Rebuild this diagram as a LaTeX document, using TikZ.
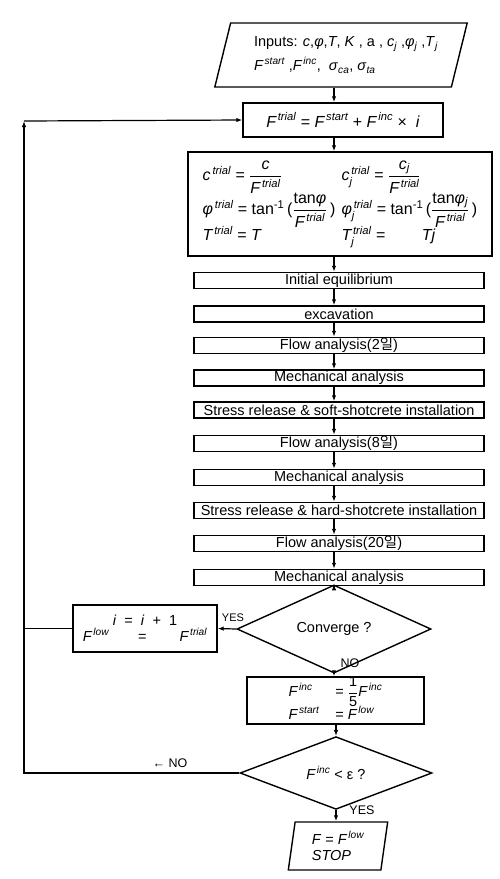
\documentclass[tikz,border=0pt]{standalone}
\usepackage{amsmath}
\usepackage{fontspec}
\setmainfont{Liberation Sans}
\newfontfamily\kr{Noto Sans CJK KR}
\usepackage{tikz}
\usetikzlibrary{arrows.meta, shapes.geometric}
\tikzset{
  calc/.style={draw, line width=1.4pt, inner sep=0pt},
  proc/.style={calc, minimum width=290pt, minimum height=16pt},
  decide/.style={draw, line width=1.4pt, diamond, inner sep=0pt,
    minimum width=194pt, minimum height=62pt},
  inout/.style={draw, line width=1.4pt, trapezium, trapezium stretches=true,
    inner sep=0pt},
  tag/.style={font=\fontsize{12.5}{14}\selectfont}
}
\let\itv\textit
\newcommand\Ftrial{$\itv{F}^{\,\itv{trial}}$}
\newcommand\Fstart{$\itv{F}^{\,\itv{start}}$}
\newcommand\Finc{$\itv{F}^{\,\itv{inc}}$}
\newcommand\Flow{$\itv{F}^{\,\itv{low}}$}
\newcommand\ratio[2]{$\dfrac{\text{#1}}{\text{#2}}$}
\newcommand\tanInv{tan\textsuperscript{-1}}

\begin{document}
\begin{tikzpicture}[x=1pt, y=-1pt, >={Latex[length=6pt,width=4.5pt]}, line width=1.2pt,
    every node/.style={font=\fontsize{14.5}{16}\selectfont}]
            \useasboundingbox (0,0) rectangle (500,879);
            \coordinate (axis) at (334,0);
            \coordinate (loop) at (24,121);

            \node[inout, trapezium left angle=69, trapezium right angle=111,
                minimum width=253pt, minimum height=64pt, align=left] (input) at (341,55)
                {\hspace{10pt}Inputs: \itv{c},\itv{φ},\itv{T}, \itv{K} , a , \itv{c}$_{\itv{j}}$ ,\itv{φ}$_{\itv{j}}$ ,\itv{T}$_{\itv{j}}$\\[5pt]
                 \hspace{10pt}\Fstart\ ,\Finc, \ \itv{σ}$_{\itv{ca}}$, \itv{σ}$_{\itv{ta}}$};
            \node[calc, minimum width=200pt, minimum height=34pt, font=\fontsize{16}{18}\selectfont] (trial) at (343,120)
                {\Ftrial\ = \Fstart\ + \Finc\ × \ \itv{i}};
            \node[calc, minimum width=304pt, minimum height=104pt, font=\fontsize{16}{18}\selectfont] (param) at (340,204)
                {\begin{tabular}{@{}l@{\hspace{6pt}}l@{}}
                 $\itv{c}^{\,\itv{trial}}$ = \ratio{\itv{c}}{\Ftrial} &
                 $\itv{c}_{\itv{j}}^{\,\itv{trial}}$ = \ratio{$\itv{c}_{\itv{j}}$}{\Ftrial} \\[-1pt]
                 $\itv{φ}^{\,\itv{trial}}$ = \tanInv\,(\ratio{tan\itv{φ}}{\Ftrial}\,) &
                 $\itv{φ}_{\itv{j}}^{\,\itv{trial}}$ = \tanInv\,(\ratio{tan\itv{φ}$_{\itv{j}}$}{\Ftrial}\,) \\[-2pt]
                 $\itv{T}^{\,\itv{trial}}$ = \itv{T} &
                 $\itv{T}_{\itv{j}}^{\,\itv{trial}}$ = \qquad \itv{Tj}
                 \end{tabular}};

            \node[proc] (equil) at (339,280.5) {Initial equilibrium};
            \node[proc] (excav) at (339,314) {excavation};
            \node[proc] (flowA) at (339,345.5) {Flow analysis(2{\kr 일})};
            \node[proc] (mechA) at (339,378) {Mechanical analysis};
            \node[proc] (soft) at (339,410) {Stress release \& soft-shotcrete installation};
            \node[proc] (flowB) at (339,443.5) {Flow analysis(8{\kr 일})};
            \node[proc] (mechB) at (339,477.5) {Mechanical analysis};
            \node[proc] (hard) at (339,510.5) {Stress release \& hard-shotcrete installation};
            \node[proc] (flowC) at (339,543.5) {Flow analysis(20{\kr 일})};
            \node[proc] (mechC) at (339,577.5) {Mechanical analysis};

            \node[decide] (conv) at (334,629) {Converge ?};
            \node[calc, minimum width=144pt, minimum height=47pt, align=center] (update) at (145,628.5)
                {\itv{i} \ = \ \itv{i} \ + \ 1\\ \Flow \qquad = \qquad \Ftrial};
            \node[calc, minimum width=177pt, minimum height=45pt] (reduce) at (335.5,700.5)
                {\begin{tabular}{@{}l@{\hspace{16pt}}l@{}}
                 \Finc & = \ratio{1}{5}\Finc \\[-1pt]
                 \Fstart & = \Flow
                 \end{tabular}};
            \node[decide, minimum width=192pt, minimum height=60pt] (tol) at (336,773)
                {\Finc\ < ε ?};
            \node[inout, trapezium left angle=82, trapezium right angle=98,
                minimum width=100pt, minimum height=48pt, align=left] (stop) at (338,846)
                {\itv{F} = \Flow\\ \itv{STOP}};

            \node[tag, font=\fontsize{11}{12}\selectfont] (yesA) at (233,618) {YES};
            \node[tag] (noA) at (350,663) {NO};
            \node[tag] (noB) at (170,763) {← NO};
            \node[tag] (yesB) at (362,810) {YES};

            \draw[->] (input.south -| axis) -- (trial.north -| axis);
            \draw[->] (trial.south -| axis) -- (param.north -| axis);
            \draw[->] (param.south -| axis) -- (equil.north -| axis);
            \draw[->] (equil.south -| axis) -- (excav.north -| axis);
            \draw[->] (excav.south -| axis) -- (flowA.north -| axis);
            \draw[->] (flowA.south -| axis) -- (mechA.north -| axis);
            \draw[->] (mechA.south -| axis) -- (soft.north -| axis);
            \draw[->] (soft.south -| axis) -- (flowB.north -| axis);
            \draw[->] (flowB.south -| axis) -- (mechB.north -| axis);
            \draw[->] (mechB.south -| axis) -- (hard.north -| axis);
            \draw[->] (hard.south -| axis) -- (flowC.north -| axis);
            \draw[->] (flowC.south -| axis) -- (mechC.north -| axis);
            \draw[->] (mechC.south -| axis) -- (conv.north);
            \draw[->] (conv.west) -- (update.east);
            \draw (update.west) -- (update.west -| loop);
            \draw[->] (conv.south) -- (reduce.north -| conv);
            \draw[->] (reduce.south -| tol) -- (tol.north);
            \draw[->] (tol.west) -| (loop);
            \draw[->] (loop) -- (trial.west);
            \draw[->] (tol.south) -- (stop.north -| tol);
        \end{tikzpicture}
\end{document}
